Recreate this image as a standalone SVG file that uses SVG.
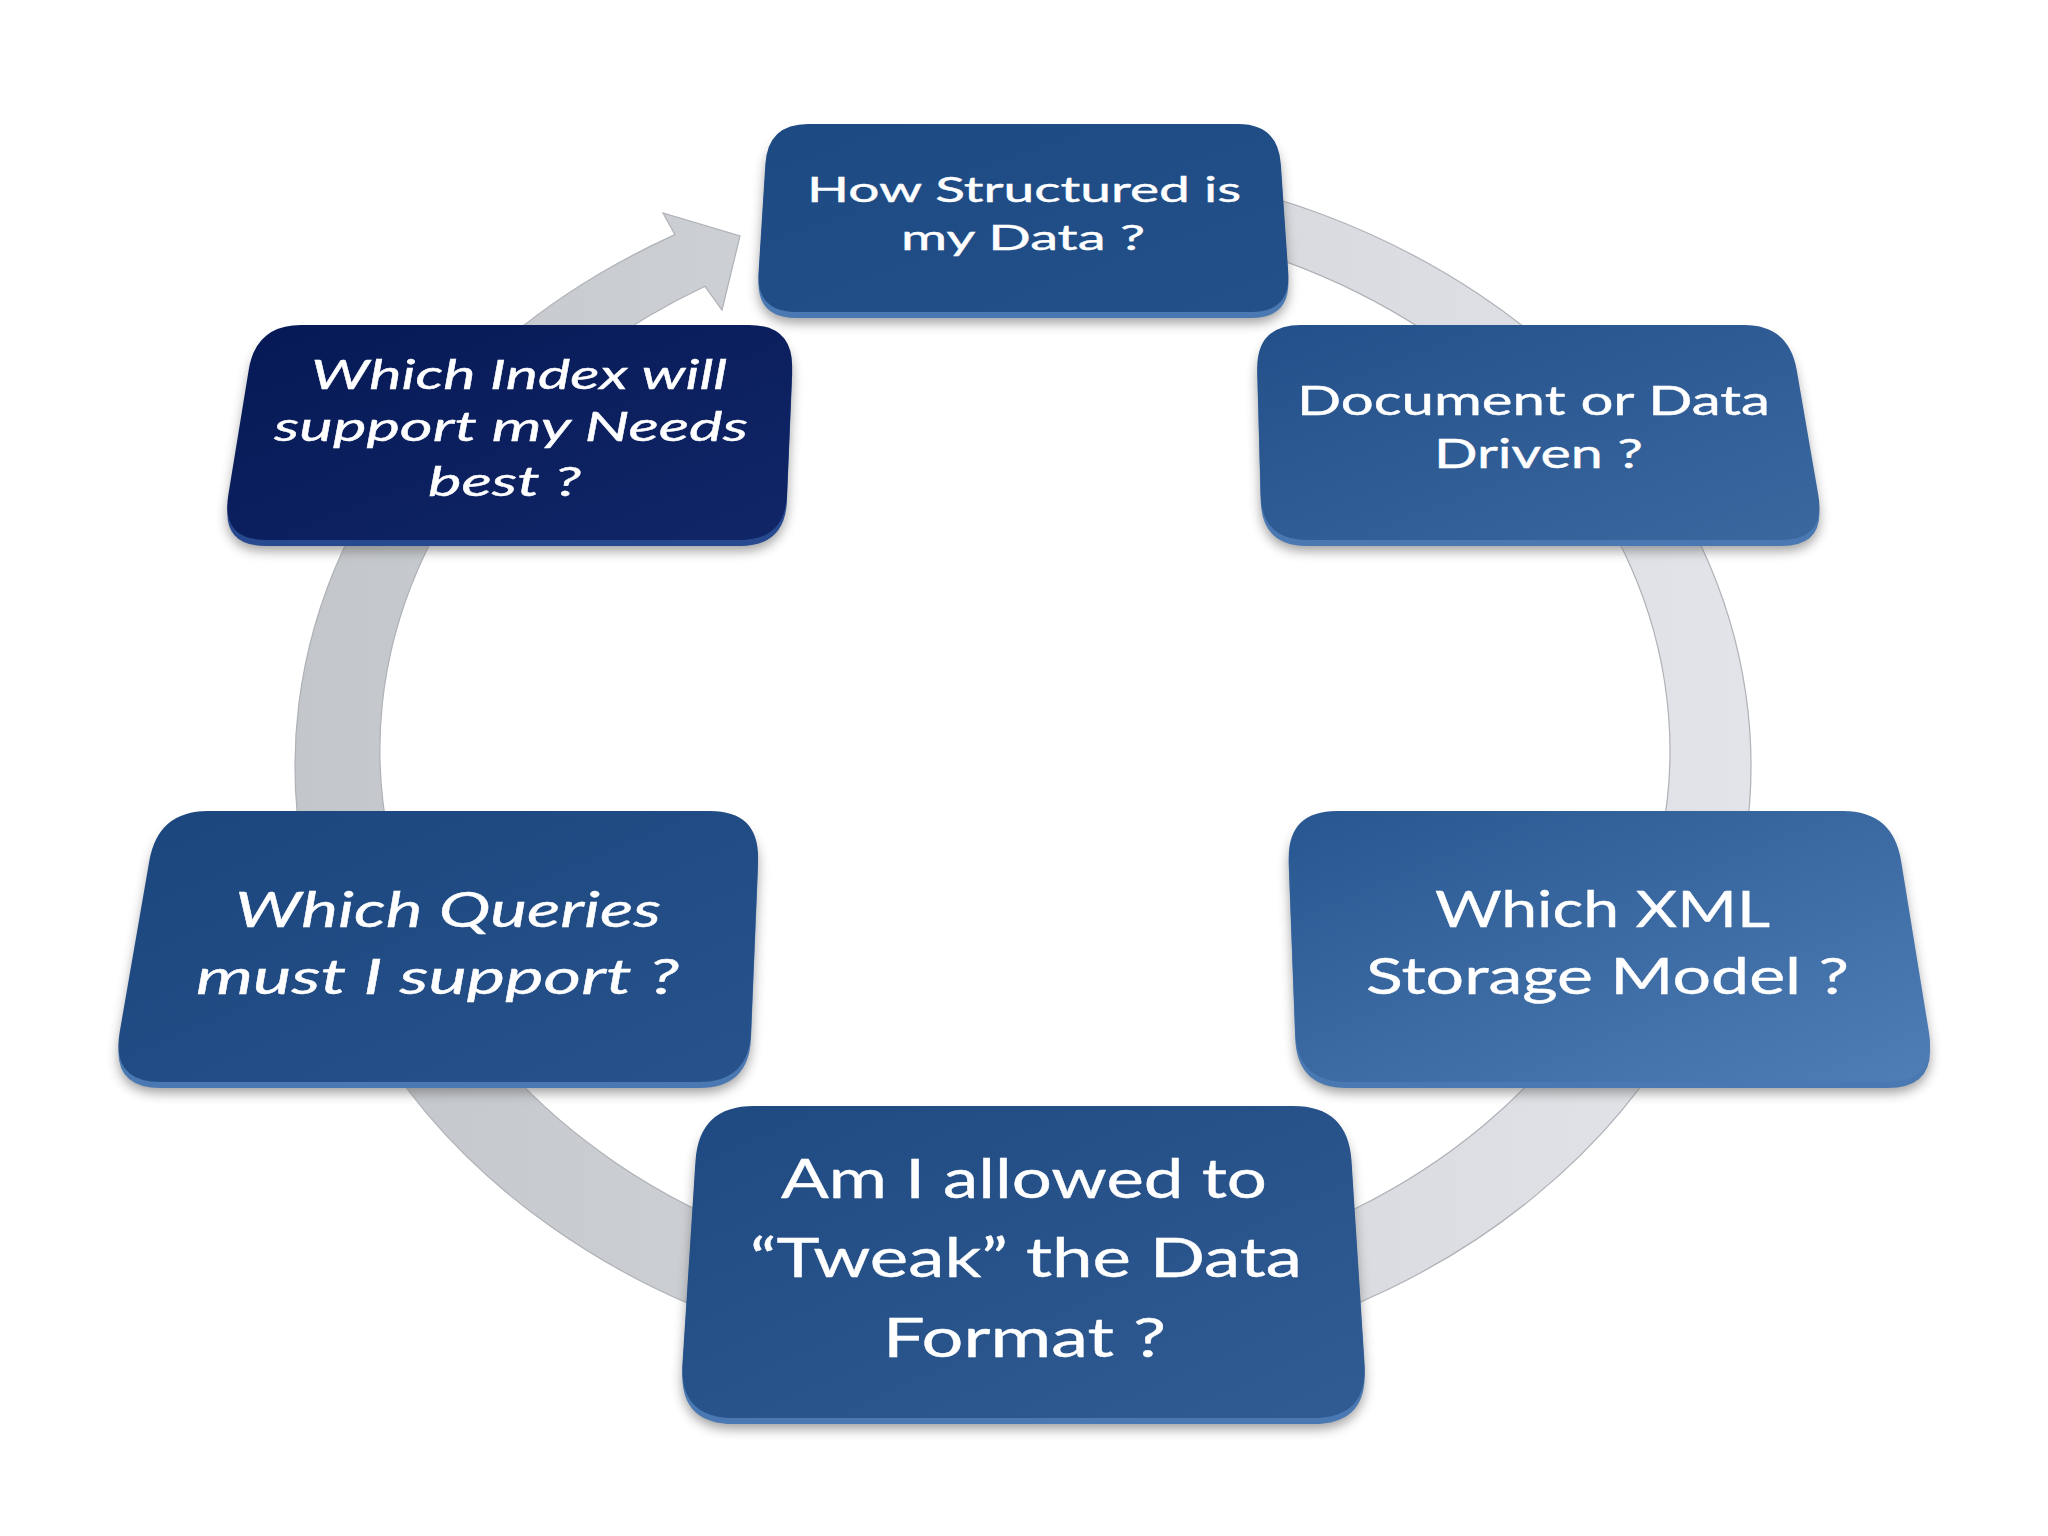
<svg xmlns="http://www.w3.org/2000/svg" width="2048" height="1536" viewBox="0 0 2048 1536">
<defs>
<style>
.t{fill:#ffffff;stroke:#ffffff;stroke-width:0.4;font-family:Lato,"Open Sans","Liberation Sans",sans-serif;}
.i{font-style:italic;}
.shadow{fill:#6e6e6e;opacity:0.65;filter:url(#blur);}
.rim{fill:#4a78b2;}
.rimd{fill:#27498f;}
</style>
<filter id="blur" x="-10%" y="-20%" width="120%" height="150%"><feGaussianBlur stdDeviation="6"/></filter>
<linearGradient id="ring" x1="0" y1="0" x2="1" y2="0"><stop offset="0" stop-color="#c3c6cb"/><stop offset="1" stop-color="#e2e4e9"/></linearGradient>
<linearGradient id="g1" x1="0" y1="0" x2="1" y2="1"><stop offset="0" stop-color="#1d4a82"/><stop offset="1" stop-color="#24508a"/></linearGradient>
<linearGradient id="g2" x1="0" y1="0" x2="1" y2="1"><stop offset="0" stop-color="#23508a"/><stop offset="1" stop-color="#3c68a0"/></linearGradient>
<linearGradient id="g3" x1="0" y1="0" x2="1" y2="1"><stop offset="0" stop-color="#285690"/><stop offset="1" stop-color="#4f7db5"/></linearGradient>
<linearGradient id="g4" x1="0" y1="0" x2="1" y2="1"><stop offset="0" stop-color="#1e4981"/><stop offset="1" stop-color="#305c93"/></linearGradient>
<linearGradient id="g5" x1="0" y1="0" x2="1" y2="1"><stop offset="0" stop-color="#1b457d"/><stop offset="1" stop-color="#27528b"/></linearGradient>
<linearGradient id="g6" x1="0" y1="0" x2="1" y2="1"><stop offset="0" stop-color="#061956"/><stop offset="1" stop-color="#112667"/></linearGradient>
</defs>
<rect width="2048" height="1536" fill="#ffffff"/>

<g id="connectors">
<path d="M 1000 161.3 A 728 605 0 1 1 675 234.6 L 663 213 L 740 236 L 722 310 L 705 286.3 A 645 534 0 1 0 1000 216.4 Z" fill="url(#ring)" stroke="#aeb1b6" stroke-width="1.2"/>
</g>

<g id="node-structured">
<path class="shadow" transform="translate(0,11)" d="M 808 124 L 1238 124 Q 1278 124 1280.8 164 L 1288.2 272 Q 1291 312 1251 312 L 796 312 Q 756 312 758.6 272 L 765.4 164 Q 768 124 808 124 Z"/>
<path class="rim" transform="translate(0,6)" d="M 808 124 L 1238 124 Q 1278 124 1280.8 164 L 1288.2 272 Q 1291 312 1251 312 L 796 312 Q 756 312 758.6 272 L 765.4 164 Q 768 124 808 124 Z"/>
<path fill="url(#g1)" d="M 808 124 L 1238 124 Q 1278 124 1280.8 164 L 1288.2 272 Q 1291 312 1251 312 L 796 312 Q 756 312 758.6 272 L 765.4 164 Q 768 124 808 124 Z"/>
<text class="t" font-size="34" x="807" y="202" textLength="434" lengthAdjust="spacingAndGlyphs">How Structured is</text>
<text class="t" font-size="34" x="901" y="250" textLength="244" lengthAdjust="spacingAndGlyphs">my Data ?</text>
</g>

<g id="node-document">
<path class="shadow" transform="translate(0,11)" d="M 1301 325 L 1744 325 Q 1789 325 1796.7 370 L 1818.3 495 Q 1826 540 1781 540 L 1307 540 Q 1262 540 1260.7 495 L 1257.3 370 Q 1256 325 1301 325 Z"/>
<path class="rim" transform="translate(0,6)" d="M 1301 325 L 1744 325 Q 1789 325 1796.7 370 L 1818.3 495 Q 1826 540 1781 540 L 1307 540 Q 1262 540 1260.7 495 L 1257.3 370 Q 1256 325 1301 325 Z"/>
<path fill="url(#g2)" d="M 1301 325 L 1744 325 Q 1789 325 1796.7 370 L 1818.3 495 Q 1826 540 1781 540 L 1307 540 Q 1262 540 1260.7 495 L 1257.3 370 Q 1256 325 1301 325 Z"/>
<text class="t" font-size="40" x="1297" y="415" textLength="473" lengthAdjust="spacingAndGlyphs">Document or Data</text>
<text class="t" font-size="40" x="1434" y="468" textLength="209" lengthAdjust="spacingAndGlyphs">Driven ?</text>
</g>

<g id="node-index">
<path class="shadow" transform="translate(0,11)" d="M 301 325 L 749 325 Q 794 325 792.1 370 L 786.9 495 Q 785 540 740 540 L 266 540 Q 221 540 228.3 495 L 248.7 370 Q 256 325 301 325 Z"/>
<path class="rimd" transform="translate(0,6)" d="M 301 325 L 749 325 Q 794 325 792.1 370 L 786.9 495 Q 785 540 740 540 L 266 540 Q 221 540 228.3 495 L 248.7 370 Q 256 325 301 325 Z"/>
<path fill="url(#g6)" d="M 301 325 L 749 325 Q 794 325 792.1 370 L 786.9 495 Q 785 540 740 540 L 266 540 Q 221 540 228.3 495 L 248.7 370 Q 256 325 301 325 Z"/>
<text class="t i" font-size="40" x="311" y="389" textLength="416" lengthAdjust="spacingAndGlyphs">Which Index will</text>
<text class="t i" font-size="40" x="274" y="441" textLength="474" lengthAdjust="spacingAndGlyphs">support my Needs</text>
<text class="t i" font-size="40" x="428" y="496" textLength="153" lengthAdjust="spacingAndGlyphs">best ?</text>
</g>

<g id="node-queries">
<path class="shadow" transform="translate(0,11)" d="M 208 811 L 710 811 Q 760 811 758 861 L 751 1032 Q 749 1082 699 1082 L 161 1082 Q 111 1082 119.7 1032 L 149.3 861 Q 158 811 208 811 Z"/>
<path class="rim" transform="translate(0,6)" d="M 208 811 L 710 811 Q 760 811 758 861 L 751 1032 Q 749 1082 699 1082 L 161 1082 Q 111 1082 119.7 1032 L 149.3 861 Q 158 811 208 811 Z"/>
<path fill="url(#g5)" d="M 208 811 L 710 811 Q 760 811 758 861 L 751 1032 Q 749 1082 699 1082 L 161 1082 Q 111 1082 119.7 1032 L 149.3 861 Q 158 811 208 811 Z"/>
<text class="t i" font-size="48" x="235" y="927" textLength="426" lengthAdjust="spacingAndGlyphs">Which Queries</text>
<text class="t i" font-size="48" x="196" y="994" textLength="483" lengthAdjust="spacingAndGlyphs">must I support ?</text>
</g>

<g id="node-storage">
<path class="shadow" transform="translate(0,11)" d="M 1337 811 L 1843 811 Q 1893 811 1901.1 861 L 1928.9 1032 Q 1937 1082 1887 1082 L 1347 1082 Q 1297 1082 1295.2 1032 L 1288.8 861 Q 1287 811 1337 811 Z"/>
<path class="rim" transform="translate(0,6)" d="M 1337 811 L 1843 811 Q 1893 811 1901.1 861 L 1928.9 1032 Q 1937 1082 1887 1082 L 1347 1082 Q 1297 1082 1295.2 1032 L 1288.8 861 Q 1287 811 1337 811 Z"/>
<path fill="url(#g3)" d="M 1337 811 L 1843 811 Q 1893 811 1901.1 861 L 1928.9 1032 Q 1937 1082 1887 1082 L 1347 1082 Q 1297 1082 1295.2 1032 L 1288.8 861 Q 1287 811 1337 811 Z"/>
<text class="t" font-size="50" x="1435" y="927" textLength="335" lengthAdjust="spacingAndGlyphs">Which XML</text>
<text class="t" font-size="50" x="1366" y="994" textLength="483" lengthAdjust="spacingAndGlyphs">Storage Model ?</text>
</g>

<g id="node-tweak">
<path class="shadow" transform="translate(0,11)" d="M 754 1106 L 1293 1106 Q 1348 1106 1351.5 1161 L 1364.5 1363 Q 1368 1418 1313 1418 L 734 1418 Q 679 1418 682.5 1363 L 695.5 1161 Q 699 1106 754 1106 Z"/>
<path class="rim" transform="translate(0,6)" d="M 754 1106 L 1293 1106 Q 1348 1106 1351.5 1161 L 1364.5 1363 Q 1368 1418 1313 1418 L 734 1418 Q 679 1418 682.5 1363 L 695.5 1161 Q 699 1106 754 1106 Z"/>
<path fill="url(#g4)" d="M 754 1106 L 1293 1106 Q 1348 1106 1351.5 1161 L 1364.5 1363 Q 1368 1418 1313 1418 L 734 1418 Q 679 1418 682.5 1363 L 695.5 1161 Q 699 1106 754 1106 Z"/>
<text class="t" font-size="55" x="781" y="1198" textLength="486" lengthAdjust="spacingAndGlyphs">Am I allowed to</text>
<text class="t" font-size="55" x="750" y="1277" textLength="552" lengthAdjust="spacingAndGlyphs">“Tweak” the Data</text>
<text class="t" font-size="55" x="883" y="1357" textLength="283" lengthAdjust="spacingAndGlyphs">Format ?</text>
</g>
</svg>
